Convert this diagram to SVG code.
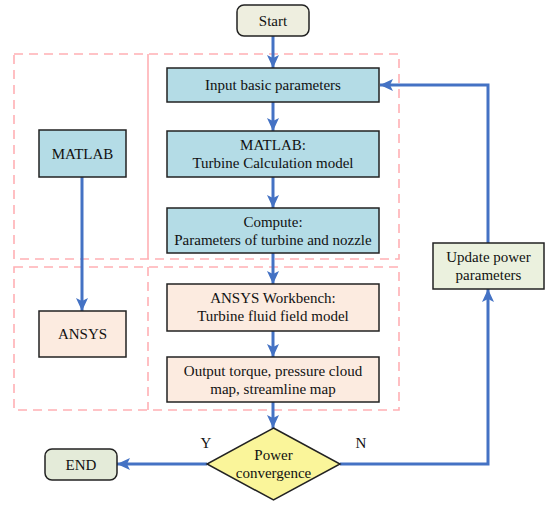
<svg xmlns="http://www.w3.org/2000/svg" width="550" height="509" viewBox="0 0 550 509">
<defs>
<marker id="ah" markerUnits="userSpaceOnUse" markerWidth="14" markerHeight="14" viewBox="0 0 14 14" refX="13" refY="7" orient="auto">
<path d="M0,1 L13,7 L0,13 L3,7 Z" fill="#4472C4"/>
</marker>
<style>
text{font-family:'Liberation Serif','Times New Roman',Times,serif}
.t{font-size:15px;fill:#111;text-anchor:middle}
.box{stroke:#222;stroke-width:1.5}
.blue{fill:#B4DCE6}
.peach{fill:#FCEBE0}
.dash{fill:none;stroke:#FFB0B4;stroke-width:1.6;stroke-dasharray:9,6}
.solidp{fill:none;stroke:#FFB0B4;stroke-width:1.6}
.c{fill:none;stroke:#4472C4;stroke-width:3;marker-end:url(#ah)}
</style>
</defs>
<rect width="550" height="509" fill="#fff"/>
<g id="regions">
<rect class="dash" x="14" y="54" width="385" height="205"/>
<line class="solidp" x1="148" y1="54" x2="148" y2="259"/>
<rect class="dash" x="14" y="267" width="385" height="143"/>
<line class="dash" x1="148" y1="267" x2="148" y2="410"/>
</g>
<g id="connectors">
<line class="c" x1="273" y1="36" x2="273" y2="68"/>
<line class="c" x1="273" y1="102" x2="273" y2="131"/>
<line class="c" x1="273" y1="177" x2="273" y2="208"/>
<line class="c" x1="273" y1="253" x2="273" y2="284"/>
<line class="c" x1="273" y1="331" x2="273" y2="357"/>
<line class="c" x1="273" y1="402" x2="273" y2="428"/>
<line class="c" x1="82" y1="177" x2="82" y2="311"/>
<line class="c" x1="207" y1="464" x2="117" y2="464"/>
<polyline class="c" points="340,464 488,464 488,289"/>
<polyline class="c" points="488,243 488,85 380,85"/>
<text class="t" x="206" y="448" font-family="Liberation Serif, serif">Y</text>
<text class="t" x="361" y="448" font-family="Liberation Serif, serif">N</text>
</g>
<g id="start">
<rect class="box" x="237" y="5" width="72" height="31" rx="7" fill="#EEEEDF"/>
<text class="t" x="273" y="26">Start</text>
</g>
<g id="input">
<rect class="box blue" x="167" y="68" width="212" height="34"/>
<text class="t" x="273" y="90">Input basic parameters</text>
</g>
<g id="matlab-model">
<rect class="box blue" x="167" y="131" width="212" height="46"/>
<text class="t" x="273" y="150">MATLAB:</text>
<text class="t" x="273" y="168">Turbine Calculation model</text>
</g>
<g id="compute">
<rect class="box blue" x="167" y="208" width="212" height="45"/>
<text class="t" x="273" y="227">Compute:</text>
<text class="t" x="273" y="245">Parameters of turbine and nozzle</text>
</g>
<g id="ansys-wb">
<rect class="box peach" x="167" y="284" width="212" height="47"/>
<text class="t" x="273" y="303">ANSYS Workbench:</text>
<text class="t" x="273" y="321">Turbine fluid field model</text>
</g>
<g id="output">
<rect class="box peach" x="167" y="357" width="212" height="45"/>
<text class="t" x="273" y="376">Output torque, pressure cloud</text>
<text class="t" x="273" y="394">map, streamline map</text>
</g>
<g id="matlab">
<rect class="box blue" x="39" y="130" width="87" height="47"/>
<text class="t" x="82.5" y="159">MATLAB</text>
</g>
<g id="ansys">
<rect class="box peach" x="39" y="311" width="87" height="46"/>
<text class="t" x="82.5" y="339">ANSYS</text>
</g>
<g id="decision">
<polygon class="box" points="273.5,428 340,464 273.5,500 207,464" fill="#FAF59A"/>
<text class="t" x="273.5" y="460">Power</text>
<text class="t" x="273.5" y="478">convergence</text>
</g>
<g id="end">
<rect class="box" x="45" y="449" width="72" height="31" rx="7" fill="#E4EBD9"/>
<text class="t" x="81" y="470">END</text>
</g>
<g id="update">
<rect class="box" x="433" y="243" width="111" height="46" fill="#EBF1DE"/>
<text class="t" x="488.5" y="262">Update power</text>
<text class="t" x="488.5" y="280">parameters</text>
</g>
</svg>
